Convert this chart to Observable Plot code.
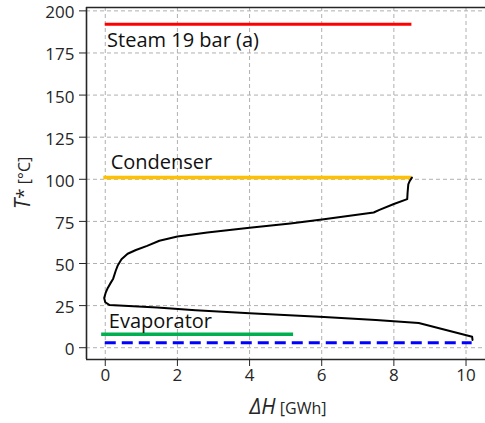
<!DOCTYPE html>
<html>
<head>
<meta charset="utf-8">
<script src="https://cdn.jsdelivr.net/npm/d3@7"></script>
<script src="https://cdn.jsdelivr.net/npm/@observablehq/plot@0.6"></script>
<style>
  body { margin: 0; background: #fff; }
  #chart svg { display: block; }
</style>
</head>
<body>
<div id="chart"></div>
<script>
// Composite curve of the process: enthalpy difference (GWh) vs shifted temperature (°C)
const curveDH = [8.50, 8.44, 8.40, 8.38, 8.37, 8.00, 7.60, 7.44, 6.06, 5.13, 4.00, 2.83, 2.00, 1.50, 1.16, 0.85, 0.62, 0.45, 0.35, 0.29, 0.22, 0.15, 0.07, 0.01, -0.03, 0.00, 0.12, 1.44, 2.50, 4.00, 6.06, 7.50, 8.69, 10.17, 10.18];
const curveT  = [101.0, 99.0, 97.0, 92.0, 88.2, 85.3, 81.8, 80.3, 76.3, 73.8, 71.2, 68.4, 66.0, 63.5, 60.5, 58.0, 55.8, 52.5, 49.0, 45.7, 41.0, 38.5, 35.5, 32.5, 29.5, 27.0, 25.3, 23.9, 22.2, 20.4, 18.2, 16.5, 14.7, 6.5, 4.6];

// Utility temperature levels
const levelNames  = ["Steam 19 bar (a)", "Condenser", "Evaporator", "Heat source"];
const levelT      = [192, 101, 8, 3];
const levelStart  = [0, -0.04, -0.1, 0];
const levelEnd    = [8.5, 8.5, 5.22, 10.17];
const levelColors = ["#ff0000", "#ffc000", "#00b050", "#0000ff"];

// Label anchors for the utility names
const labelText = ["Steam 19 bar (a)", "Condenser", "Evaporator"];
const labelX    = [0.05, 0.15, 0.10];
const labelT    = [178.8, 106.0, 12.0];

// Axes
const xTicks = [0, 2, 4, 6, 8, 10];
const yTicks = [0, 25, 50, 75, 100, 125, 150, 175, 200];
const xDomain = [-0.52, 10.54];
const yDomain = [-7, 202];

const curve = curveDH.map((d, i) => ({dH: d, T: curveT[i]}));
const levels = levelNames.map((n, i) => ({name: n, T: levelT[i], x1: levelStart[i], x2: levelEnd[i], color: levelColors[i]}));
const labels = labelText.map((t, i) => ({text: t, x: labelX[i], T: labelT[i]}));

const solid = levels.slice(0, 3);
const dashed = levels.slice(3);

const gridStyle = {stroke: "#b0b0b0", strokeWidth: 1, strokeDasharray: "4,3"};
const spine = {stroke: "#262626", strokeWidth: 1.6};

const chart = Plot.plot({
  width: 485,
  height: 423,
  marginLeft: 86,
  marginTop: 7,
  marginBottom: 64,
  marginRight: 0,
  style: {fontFamily: "Open Sans", fontSize: "17px", color: "#262626", background: "#fff"},
  x: {domain: xDomain, ticks: xTicks, tickSize: 7, tickPadding: 2, label: null, tickFormat: d3.format("d")},
  y: {domain: yDomain, ticks: yTicks, tickSize: 7, tickPadding: 5, label: null, tickFormat: d3.format("d")},
  marks: [
    Plot.ruleX(xTicks, gridStyle),
    Plot.ruleY(yTicks, gridStyle),
    Plot.ruleY(solid.slice(0, 1), {y: "T", x1: "x1", x2: "x2", stroke: "color", strokeWidth: 3}),
    Plot.ruleY(solid.slice(1), {y: "T", x1: "x1", x2: "x2", stroke: "color", strokeWidth: 3.5}),
    Plot.ruleY(dashed, {y: "T", x1: "x1", x2: "x2", stroke: "color", strokeWidth: 3, strokeDasharray: "11,6"}),
    Plot.line(curve, {x: "dH", y: "T", stroke: "#000", strokeWidth: 2, strokeLinejoin: "round"}),
    Plot.text(labels, {x: "x", y: "T", text: "text", textAnchor: "start", lineAnchor: "bottom", fontSize: 20, fill: "#111"}),
    Plot.ruleX([xDomain[0]], {y1: yDomain[0], y2: yDomain[1], ...spine}),
    Plot.ruleY(yDomain, {x1: xDomain[0], x2: xDomain[1], ...spine})
  ]
});

const svg = d3.select(chart);

// sit the y tick labels a touch lower so the top one stays inside the page
svg.selectAll('g[aria-label="y-axis tick label"] text').attr("dy", "0.12em");

// x-axis title: ΔH [GWh]
const xt = svg.append("text")
  .attr("x", 288).attr("y", 414)
  .attr("text-anchor", "middle")
  .attr("fill", "#262626")
  .style("font-family", "Open Sans");
xt.append("tspan").attr("font-size", 21).attr("font-style", "italic").text("ΔH");
xt.append("tspan").attr("font-size", 16).text(" [GWh]");

// y-axis title: T* [°C]
const yt = svg.append("text")
  .attr("transform", "translate(30,183) rotate(-90)")
  .attr("text-anchor", "middle")
  .attr("fill", "#262626")
  .style("font-family", "Open Sans");
yt.append("tspan").attr("font-size", 21).attr("font-style", "italic").text("T");
yt.append("tspan").attr("font-size", 19).text("*");
yt.append("tspan").attr("font-size", 16).text(" [°C]");

document.getElementById("chart").append(chart);
</script>
</body>
</html>
